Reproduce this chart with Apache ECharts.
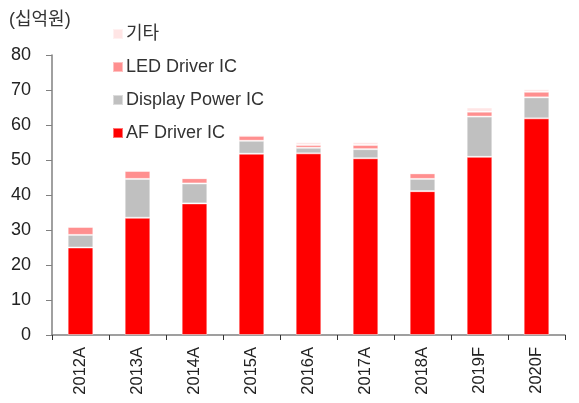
<!DOCTYPE html>
<html>
<head>
<meta charset="utf-8">
<script src="https://cdn.jsdelivr.net/npm/echarts@6/dist/echarts.min.js"></script>
<style>
  html, body { margin: 0; padding: 0; background: #fff; }
  #chart { width: 579px; height: 403px; }
</style>
</head>
<body>
<div id="chart"></div>
<script>
const years = ["2012A", "2013A", "2014A", "2015A", "2016A", "2017A", "2018A", "2019F", "2020F"];
const afDriver = [25.0, 33.5, 37.6, 51.8, 51.9, 50.5, 41.1, 50.9, 61.9];
const displayPower = [3.6, 11.1, 5.7, 3.7, 1.6, 2.6, 3.5, 11.5, 6.0];
const ledDriver = [2.3, 2.3, 1.5, 1.4, 0.8, 1.2, 1.6, 1.4, 1.6];
const others = [0, 0, 0, 0.4, 0.8, 0.8, 0, 1.2, 0.7];

const font = "'Liberation Sans', 'Noto Sans CJK KR', sans-serif";
const myChart = echarts.init(document.getElementById("chart"));

// stacked bar, AF at the bottom
function bar(name, data, color) {
  return {
    name: name,
    type: "bar",
    stack: "total",
    barWidth: "45%",
    itemStyle: { color: color, borderColor: "rgba(255,255,255,0.45)", borderWidth: 1 },
    data: data,
  };
}

const option = {
  animation: false,
  textStyle: { fontFamily: font },
  title: {
    text: "(십억원)",
    left: 4,
    top: 6,
    textStyle: { fontFamily: font, fontSize: 18, fontWeight: "normal", color: "#333" },
  },
  legend: {
    orient: "vertical",
    left: 107,
    top: 20,
    itemWidth: 10,
    itemHeight: 10,
    itemGap: 15,
    icon: "rect",
    textStyle: { fontFamily: font, fontSize: 18, color: "#333", padding: [0, 0, 0, -2] },
    data: ["기타", "LED Driver IC", "Display Power IC", "AF Driver IC"],
  },
  grid: { left: 52, right: 14, top: 55, bottom: 68 },
  xAxis: {
    type: "category",
    data: years,
    axisLine: { lineStyle: { color: "#808080", width: 1.5 } },
    axisTick: { show: true, length: 5, lineStyle: { color: "#333" } },
    axisLabel: { rotate: 90, fontSize: 16.5, color: "#222", margin: 12, fontFamily: font },
  },
  yAxis: {
    type: "value",
    min: 0,
    max: 80,
    interval: 10,
    splitLine: { show: false },
    axisLine: { show: true, lineStyle: { color: "#808080", width: 1.5 } },
    axisTick: { show: true, length: 6, lineStyle: { color: "#808080" } },
    axisLabel: { fontSize: 18, color: "#222", margin: 21, fontFamily: font },
  },
  series: [
    bar("AF Driver IC", afDriver, "#ff0000"),
    bar("Display Power IC", displayPower, "#c0c0c0"),
    bar("LED Driver IC", ledDriver, "#ff8f8f"),
    bar("기타", others, "#ffe5e5"),
  ],
};
myChart.setOption(option);
</script>
</body>
</html>
